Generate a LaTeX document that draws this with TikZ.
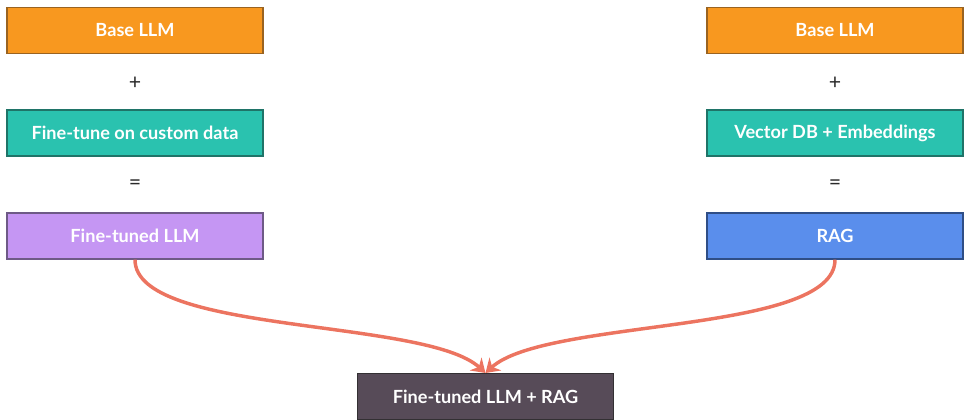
\documentclass[tikz,border=0pt]{standalone}
\usepackage{fontspec}
\setmainfont{Lato}
\usetikzlibrary{arrows.meta}
\definecolor{corange}{HTML}{F8981F}
\definecolor{corangeb}{HTML}{9A6320}
\definecolor{cteal}{HTML}{2AC2AF}
\definecolor{ctealb}{HTML}{1F7468}
\definecolor{cpurple}{HTML}{C596F3}
\definecolor{cpurpleb}{HTML}{6E5A86}
\definecolor{cblue}{HTML}{5A8EEC}
\definecolor{cblueb}{HTML}{2F4E86}
\definecolor{cdark}{HTML}{574B58}
\definecolor{cdarkb}{HTML}{333033}
\definecolor{carrow}{HTML}{EC7460}
\definecolor{csym}{HTML}{2A2A2A}
\begin{document}
\begin{tikzpicture}[x=0.75pt,y=-0.75pt,
  box/.style={draw=#1, line width=1pt, minimum width=192pt, minimum height=34.5pt, inner sep=0pt,
    text=white, font=\fontsize{13.6}{15}\selectfont\bfseries},
  sym/.style={text=csym, font=\fontsize{16}{17}\selectfont},
  conn/.style={draw=carrow, line width=2.6pt, -{Stealth[length=10pt,width=13pt]}}]
\useasboundingbox (0,0) rectangle (969,419);
\node[box=corangeb, fill=corange] (lb) at (135,30.5) {Base LLM};
\node[sym] (lp) at (135,83) {+};
\node[box=ctealb, fill=cteal] (lf) at (135,133) {Fine-tune on custom data};
\node[sym] (le) at (135,185) {=};
\node[box=cpurpleb, fill=cpurple] (lr) at (135,236) {Fine-tuned LLM};
\node[box=corangeb, fill=corange] (rb) at (835,30.5) {Base LLM};
\node[sym] (rp) at (835,83) {+};
\node[box=ctealb, fill=cteal] (rf) at (835,133) {Vector DB + Embeddings};
\node[sym] (re) at (835,185) {=};
\node[box=cblueb, fill=cblue] (rr) at (835,236) {RAG};
\node[box=cdarkb, fill=cdark, anchor=north] (fin) at (485.5,373) {Fine-tuned LLM + RAG};
\draw[conn] (lr.south) .. controls +(0,75) and +(-60,-55) .. (fin.north);
\draw[conn] (rr.south) .. controls +(0,75) and +(60,-55) .. (fin.north);
\end{tikzpicture}
\end{document}
